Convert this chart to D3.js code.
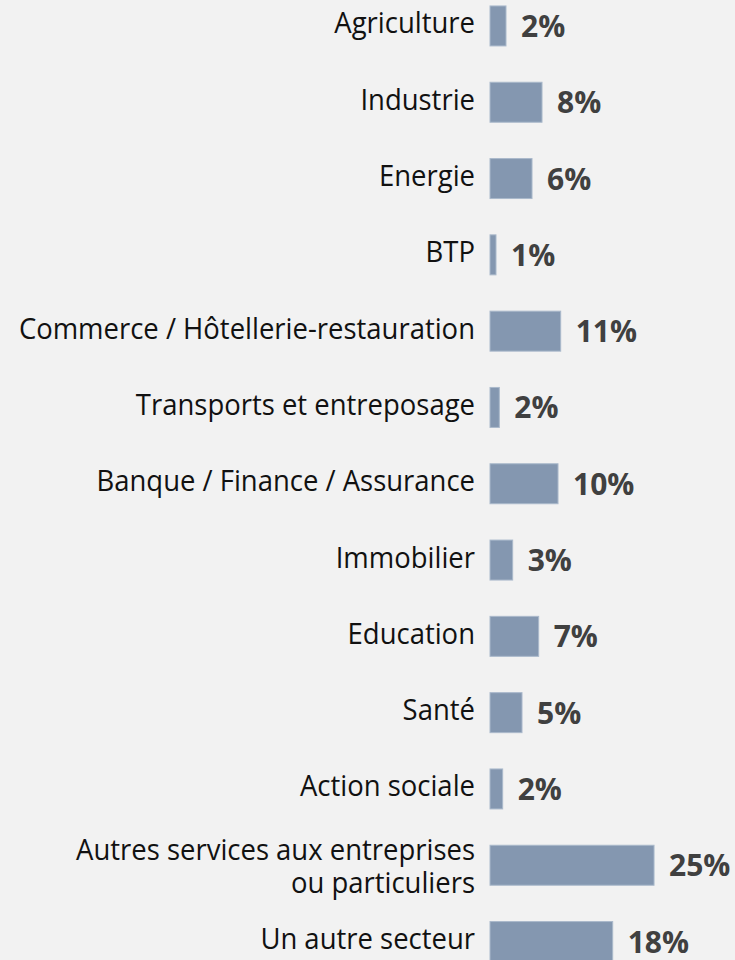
<!DOCTYPE html>
<html>
<head>
<meta charset="utf-8">
<script src="https://cdn.jsdelivr.net/npm/d3@7"></script>
<style>
  html, body { margin: 0; padding: 0; background: #f2f2f2; }
  svg { display: block; }
</style>
</head>
<body>
<script>
// sectors, top to bottom
const categories = [
    "Agriculture",
    "Industrie",
    "Energie",
    "BTP",
    "Commerce / Hôtellerie-restauration",
    "Transports et entreposage",
    "Banque / Finance / Assurance",
    "Immobilier",
    "Education",
    "Santé",
    "Action sociale",
    "Autres services aux entreprises|ou particuliers",
    "Un autre secteur"
];
// bar lengths (%)
const values = [2.4, 7.8, 6.3, 0.9, 10.6, 1.4, 10.2, 3.4, 7.3, 4.8, 1.9, 24.6, 18.4];
// labels as printed
const labels = ["2%", "8%", "6%", "1%", "11%", "2%", "10%", "3%", "7%", "5%", "2%", "25%", "18%"];

const data = categories.map((c, i) => ({cat: c, value: values[i], label: labels[i]}));

const width = 735, height = 960;

const svg = d3.select("body").append("svg")
    .attr("width", width)
    .attr("height", height);

// scales
const x = d3.scaleLinear().domain([0, 25]).range([490, 656.7]);
const y = d3.scaleBand()
    .domain(categories)
    .range([-12.2, 979.7])
    .paddingInner(0.476)
    .paddingOuter(0.238);

// bars
svg.append("g")
    .selectAll("rect")
    .data(data)
    .join("rect")
    .attr("x", x(0))
    .attr("y", d => y(d.cat))
    .attr("width", d => x(d.value) - x(0))
    .attr("height", y.bandwidth())
    .attr("fill", "#8497b0")
    .attr("stroke", "#aab9cb")
    .attr("stroke-width", 1);

// category labels
const cats = svg.append("g")
    .selectAll("text")
    .data(data)
    .join("text")
    .attr("x", x(0) - 15)
    .attr("y", d => y(d.cat) + y.bandwidth() / 2)
    .attr("text-anchor", "end")
    .attr("font-family", "'Open Sans', sans-serif")
    .attr("font-size", 29)
    .attr("fill", "#111");

cats.each(function (d) {
    const lines = d.cat.split("|");
    const t = d3.select(this);
    const lh = 33;
    lines.forEach((l, j) => {
        t.append("tspan")
            .attr("x", x(0) - 15)
            .attr("dy", j === 0 ? (lines.length > 1 ? -5 : 7.5) : lh)
            .text(l);
    });
});

// the original face is narrower: squeeze each line a little
cats.selectAll("tspan").each(function () {
    const w = this.getComputedTextLength();
    d3.select(this).attr("textLength", w * 0.947).attr("lengthAdjust", "spacingAndGlyphs");
});

// value labels
svg.append("g")
    .selectAll("text")
    .data(data)
    .join("text")
    .attr("x", d => x(d.value) + 15)
    .attr("y", d => y(d.cat) + y.bandwidth() / 2 + 11)
    .attr("font-family", "'Open Sans', sans-serif")
    .attr("font-weight", "bold")
    .attr("font-size", 30)
    .attr("fill", "#404040")
    .text(d => d.label);
</script>
</body>
</html>
